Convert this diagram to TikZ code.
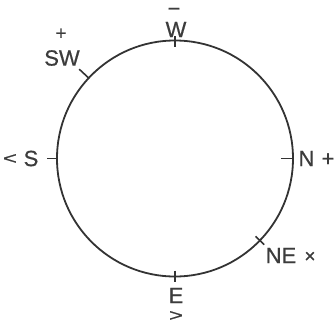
\documentclass[tikz,border=0pt]{standalone}
\usepackage{fontspec}
\setmainfont{Liberation Sans}
\newfontfamily\lblfont[FakeBold=0.6]{Liberation Sans}
\usepackage{xcolor}
\definecolor{inkgray}{HTML}{333333}
\definecolor{txtgray}{HTML}{3C3C3C}
\tikzset{
  lbl/.style={text=txtgray,inner sep=0pt,font=\lblfont\fontsize{22}{22}\selectfont},
  sym/.style={text=txtgray,inner sep=0pt,anchor=base,text height=0.6em,text depth=0pt,
    font=\lblfont\fontsize{22}{22}\selectfont},
  arr/.style={sym,xscale=1.4,transform shape,font=\lblfont\fontsize{17}{17}\selectfont},
  tick/.style={draw=inkgray,line width=1.6pt}
}
\begin{document}
\begin{tikzpicture}[x=1pt,y=1pt]
\useasboundingbox (-175,-166.5) rectangle (160,158.5);

% Circle
\draw[inkgray,line width=1.8pt] (0,0) circle (118);

% Ticks
\draw[tick] (90:112) -- (90:123);
\draw[tick] (137:118) -- (137:131);
\draw[tick] (180:118) -- (180:128);
\draw[tick] (0:106) -- (0:119);
\draw[tick] (-44:112) -- (-44:124);
\draw[tick] (270:112) -- (270:123);

% Labels (symbols placed by their baseline)
\node[lbl] (w) at (1,129) {W};
\node[sym] (wbar) at (-1,142.5) {−};
\node[lbl] (sw) at (-113,100.5) {SW};
\node[sym,font=\lblfont\fontsize{19}{19}\selectfont] (swplus) at (-114,119) {+};
\node[lbl] (s) at (-144,0) {S};
\node[arr] (sless) at (-165,-5.5) {<};
\node[lbl] (n) at (131.5,0) {N};
\node[sym] (nplus) at (153,-7.5) {+};
\node[lbl] (ne) at (106,-97) {NE};
\node[sym,font=\lblfont\fontsize{19}{19}\selectfont] (nex) at (135,-104) {×};
\node[lbl] (e) at (1,-137) {E};
\node[arr] (egreater) at (1,-162.5) {>};

\end{tikzpicture}
\end{document}
